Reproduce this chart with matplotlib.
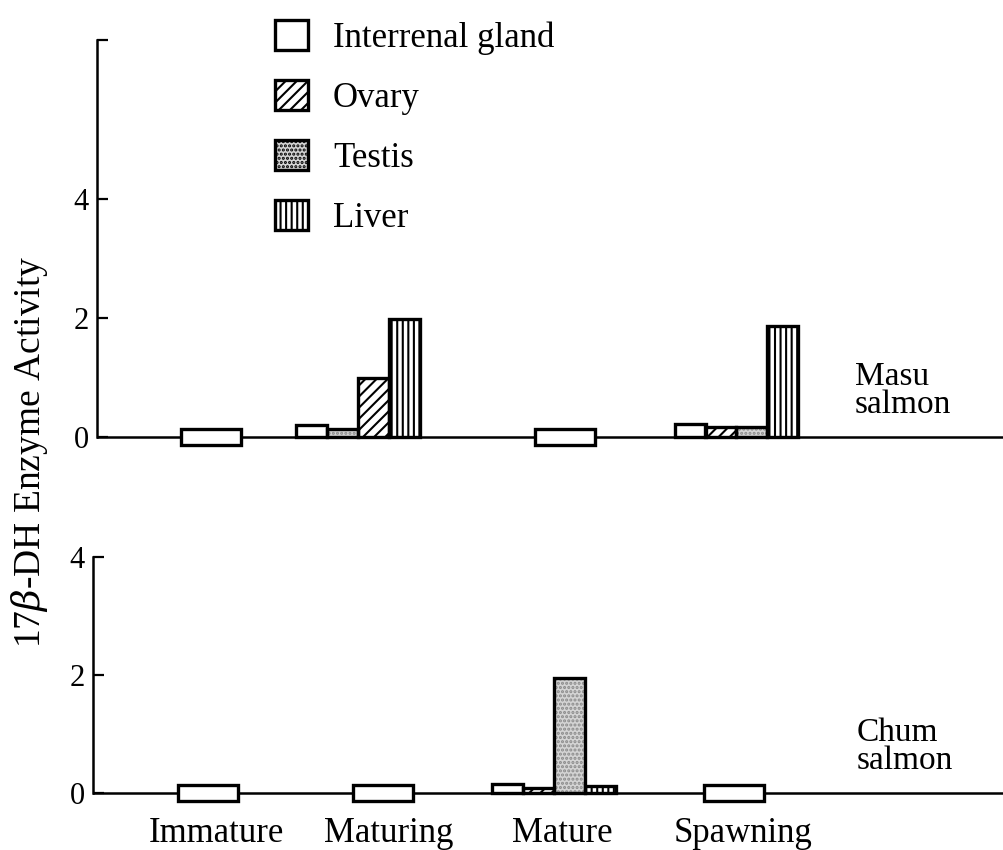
import matplotlib
matplotlib.use("Agg")
import matplotlib.pyplot as plt
from matplotlib.patches import Patch

# ---- data -------------------------------------------------------------
stages = ["Immature", "Maturing", "Mature", "Spawning"]
tissues = ["Interrenal gland", "Ovary", "Testis", "Liver"]

# Masu salmon: activity per tissue (None = not detected)
masu_maturing = {"Interrenal gland": 0.21, "Testis": 0.14, "Ovary": 1.00, "Liver": 1.98}
masu_spawning = {"Interrenal gland": 0.22, "Ovary": 0.17, "Testis": 0.17, "Liver": 1.87}
masu_values = [None, masu_maturing, None, masu_spawning]

# Chum salmon
chum_mature = {"Interrenal gland": 0.16, "Ovary": 0.08, "Testis": 1.95, "Liver": 0.12}
chum_values = [None, None, chum_mature, None]

yticks = [0, 2, 4]

# ---- styling ----------------------------------------------------------
plt.rcParams["font.family"] = ["Liberation Serif", "DejaVu Serif"]
plt.rcParams["mathtext.fontset"] = "dejavuserif"
plt.rcParams["hatch.linewidth"] = 1.5

styles = {
    "Interrenal gland": dict(facecolor="white", hatch=None, hatchcolor="black"),
    "Ovary": dict(facecolor="white", hatch="///", hatchcolor="black"),
    "Testis": dict(facecolor="#d4d4d4", hatch="....", hatchcolor="#8a8a8a"),
    "Liver": dict(facecolor="white", hatch="|||", hatchcolor="black"),
}

FS = 25
FS_TICK = 22
W, H = 1004, 850
fig = plt.figure(figsize=(W / 100, H / 100), dpi=100)

bar_w = 0.31      # x unit = 100 px
nd_w = 0.60
nd_half = 0.14
LW = 2.4


def make_axes(left_px, zero_px, px_per_unit, ymin, ymax):
    bottom_px = zero_px + (-ymin) * px_per_unit
    top_px = zero_px - ymax * px_per_unit
    ax = fig.add_axes([left_px / W, 1 - bottom_px / H,
                       (W - left_px) / W, (bottom_px - top_px) / H])
    ax.set_xlim(0, (W - left_px) / 100)
    ax.set_ylim(ymin, ymax)
    for s in ("top", "right", "bottom"):
        ax.spines[s].set_visible(False)
    ax.spines["left"].set_linewidth(1.8)
    ax.spines["left"].set_bounds(0, ymax)
    ax.axhline(0, color="black", lw=1.8, zorder=1)
    ax.set_xticks([])
    ticks = yticks + ([ymax] if ymax > max(yticks) else [])
    ax.set_yticks(ticks)
    ax.set_yticklabels([str(t) if t in yticks else "" for t in ticks])
    ax.tick_params(axis="y", direction="in", length=8, width=1.6,
                   labelsize=FS_TICK, pad=6)
    ax.patch.set_alpha(0)
    return ax


def styled_bar(ax, x, h, name):
    st = styles[name]
    # pattern fill first, then a solid black outline over it
    ax.bar(x, h, width=bar_w, facecolor=st["facecolor"],
           hatch=st["hatch"], edgecolor=st["hatchcolor"], linewidth=0,
           zorder=3)
    ax.bar(x, h, width=bar_w, facecolor="none",
           edgecolor="black", linewidth=LW, zorder=4)


def draw_panel(ax, values, centers):
    for c, vals in zip(centers, values):
        if vals is None:
            ax.bar(c, 2 * nd_half, bottom=-nd_half, width=nd_w,
                   facecolor="white", edgecolor="black", linewidth=LW,
                   zorder=3)
            continue
        names = list(vals.keys())
        n = len(names)
        for i, name in enumerate(names):
            x = c + (i - (n - 1) / 2) * bar_w
            styled_bar(ax, x, vals[name], name)


def two_line_label(ax, x, y_base, lines, spacing):
    # stacked species name, bottom line baseline at y_base (data units)
    for k, line in enumerate(reversed(lines)):
        ax.text(x, y_base + k * spacing, line, fontsize=FS - 1,
                ha="left", va="baseline")


# Masu salmon panel
ax1 = make_axes(97, 437, 59.5, -0.6, 6.67)
masu_centers = [1.145, 2.61, 4.68, 6.395]
draw_panel(ax1, masu_values, masu_centers)
two_line_label(ax1, 7.58, 0.40, ["Masu", "salmon"], 0.47)

# Chum salmon panel
ax2 = make_axes(93, 793, 59, -0.9, 4.0)
chum_centers = [1.15, 2.905, 4.61, 6.41]
draw_panel(ax2, chum_values, chum_centers)
two_line_label(ax2, 7.64, 0.40, ["Chum", "salmon"], 0.48)

# stage labels under the lower panel
label_x = [1.23, 2.96, 4.695, 6.50]
for x, s in zip(label_x, stages):
    ax2.text(x, -0.83, s, fontsize=FS, ha="center", va="baseline")

fig.text(30 / W, 1 - 452 / H, "17$\\beta$-DH Enzyme Activity", fontsize=FS + 2,
         rotation=90, ha="center", va="center")

# legend
handles = [Patch(facecolor=styles[t]["facecolor"], hatch=styles[t]["hatch"],
                 edgecolor="black", linewidth=LW) for t in tissues]
fig.legend(handles, tissues, loc="upper left",
           bbox_to_anchor=(261 / W, 1 - 6 / H), frameon=False,
           fontsize=FS, handlelength=0.95, handleheight=0.95,
           labelspacing=0.72, handletextpad=0.72, borderaxespad=0)

fig.savefig("out.png", dpi=100)
